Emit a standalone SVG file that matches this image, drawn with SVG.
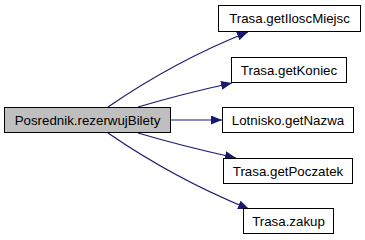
<svg xmlns="http://www.w3.org/2000/svg" width="365" height="240" viewBox="0 0 365 240">
  <style>
    .node rect { fill: #ffffff; stroke: #000000; stroke-width: 1; }
    .node.root rect { fill: #bfbfbf; }
    .node text { font-family: "Liberation Sans", Arial, sans-serif; font-size: 13.3px; fill: #000000; text-anchor: middle; }
    .edge { fill: none; stroke: #191970; stroke-width: 1.2; marker-end: url(#arrow); }
  </style>
  <defs>
    <marker id="arrow" viewBox="0 0 11 9" refX="11" refY="4.5" markerWidth="11" markerHeight="9" markerUnits="userSpaceOnUse" orient="auto">
      <path d="M0,0 L11,4.5 L0,9 Z" fill="#191970"/>
    </marker>
  </defs>

  <g id="connectors">
    <path class="edge" d="M108,107 C140,85 190,55 248,32"/>
    <path class="edge" d="M138,107 C165,99 200,90 232,83"/>
    <path class="edge" d="M171,120 L222,120"/>
    <path class="edge" d="M138,133 C165,141 200,150 236,158"/>
    <path class="edge" d="M108,133 C140,155 190,185 249,209"/>
  </g>

  <g id="rezerwujBilety" class="node root">
    <rect x="4.5" y="107.5" width="166" height="25"/>
    <text x="87.5" y="125">Posrednik.rezerwujBilety</text>
  </g>
  <g id="getIloscMiejsc" class="node">
    <rect x="218.5" y="5.5" width="142" height="26"/>
    <text x="289.5" y="23">Trasa.getIloscMiejsc</text>
  </g>
  <g id="getKoniec" class="node">
    <rect x="231.5" y="57.5" width="115" height="25"/>
    <text x="289" y="75">Trasa.getKoniec</text>
  </g>
  <g id="getNazwa" class="node">
    <rect x="222.5" y="107.5" width="131" height="25"/>
    <text x="288" y="125">Lotnisko.getNazwa</text>
  </g>
  <g id="getPoczatek" class="node">
    <rect x="223.5" y="158.5" width="129" height="25"/>
    <text x="288" y="176">Trasa.getPoczatek</text>
  </g>
  <g id="zakup" class="node">
    <rect x="243.5" y="208.5" width="90" height="25"/>
    <text x="288.5" y="226">Trasa.zakup</text>
  </g>
</svg>
